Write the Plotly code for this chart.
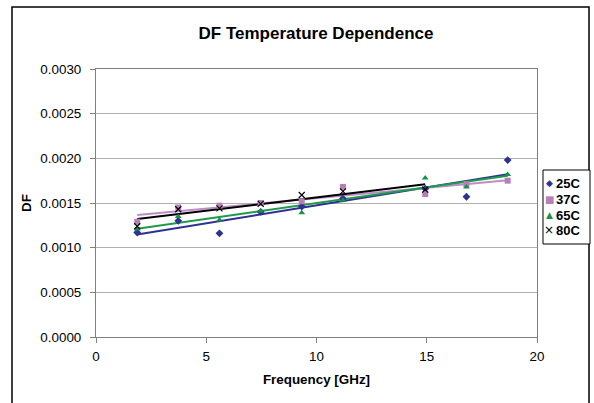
import numpy as np
import plotly.graph_objects as go

freq = [1.87, 3.73, 5.6, 7.47, 9.33, 11.2, 14.93, 16.8, 18.67]
freq_80 = [1.87, 3.73, 5.6, 7.47, 9.33, 11.2, 14.93]
df_25 = [0.00117, 0.00130, 0.00116, 0.00140, 0.00146, 0.00155, 0.00166, 0.00157, 0.00198]
df_37 = [0.00129, 0.00145, 0.00147, 0.00150, 0.00152, 0.00168, 0.00160, 0.00171, 0.00175]
df_65 = [0.00121, 0.00135, 0.00131, 0.00141, 0.00139, 0.00153, 0.00178, 0.00168, 0.00182]
df_80 = [0.00124, 0.00143, 0.00144, 0.00149, 0.00159, 0.00163, 0.00165]

names = ["25C", "37C", "65C", "80C"]
xs = [freq, freq, freq, freq_80]
ys = [df_25, df_37, df_65, df_80]
marker_colors = ["#2E3192", "#B77FB7", "#16914A", "#000000"]
line_colors = ["#2E3192", "#C08CC8", "#1E9A4B", "#000000"]
symbols = ["diamond", "square", "triangle-up", "x-thin"]
legend_glyphs = ["\u25C6", "\u25A0", "\u25B2", "\u00D7"]
glyph_sizes = [9, 10, 9, 12]

FONT = "Arial, Liberation Sans, sans-serif"
fig = go.Figure()

# trendlines (linear fits of each series)
for x, y, c in zip(xs, ys, line_colors):
    k, b = np.polyfit(x, y, 1)
    xe = [min(x), max(x)]
    fig.add_trace(go.Scatter(x=xe, y=[k * v + b for v in xe], mode="lines",
                             line=dict(color=c, width=2), showlegend=False,
                             hoverinfo="skip"))

for x, y, n, c, s in zip(xs, ys, names, marker_colors, symbols):
    mk = dict(color=c, symbol=s, size=6)
    if s == "x-thin":
        mk["line"] = dict(color=c, width=1.2)
    fig.add_trace(go.Scatter(x=x, y=y, mode="markers", name=n, marker=mk,
                             showlegend=False))

FW, FH = 594, 403
L, R, T, B = 96, 537, 69, 337
W, H = R - L, B - T
px = lambda v: (v - L) / W
py = lambda v: (B - v) / H

# outer chart border
fig.add_shape(type="rect", xref="paper", yref="paper",
              x0=px(12), x1=px(589), y0=py(430), y1=py(7),
              line=dict(color="#000000", width=1.5), layer="below")

# legend box + entries (text kept as real text)
fig.add_shape(type="rect", xref="paper", yref="paper",
              x0=px(543), x1=px(590), y0=py(244), y1=py(170),
              line=dict(color="#000000", width=1), fillcolor="white", layer="below")
row_y = [183, 199, 215, 230]
for n, c, g, gs, ry in zip(names, marker_colors, legend_glyphs, glyph_sizes, row_y):
    fig.add_annotation(xref="paper", yref="paper", x=px(549), y=py(ry),
                       text=g, showarrow=False, xanchor="center", yanchor="middle",
                       font=dict(color=c, size=gs, family="DejaVu Sans"))
    fig.add_annotation(xref="paper", yref="paper", x=px(554), y=py(ry),
                       text="<b>" + n + "</b>", showarrow=False, xanchor="left",
                       yanchor="middle", font=dict(color="#000000", size=13, family=FONT))

fig.update_layout(
    width=FW, height=FH,
    margin=dict(l=L, r=FW - R, t=T, b=FH - B, autoexpand=False),
    paper_bgcolor="white", plot_bgcolor="white",
    font=dict(family=FONT, size=13.4, color="#000000"),
    showlegend=False,
    title=dict(text="<b>DF Temperature Dependence</b>", xref="container", x=316 / FW,
               xanchor="center", yref="container", y=1 - 33 / FH, yanchor="middle",
               font=dict(size=17)),
    xaxis=dict(range=[0, 20], tickvals=[0, 5, 10, 15, 20], showgrid=False,
               showline=True, linecolor="#808080", linewidth=1, mirror=True,
               ticks="outside", ticklen=5, tickcolor="#808080", zeroline=False,
               automargin=False, ticklabelstandoff=2,
               title=dict(text="<b>Frequency [GHz]</b>", font=dict(size=13.4), standoff=11)),
    yaxis=dict(range=[0, 0.003], tickvals=[0, 0.0005, 0.001, 0.0015, 0.002, 0.0025, 0.003],
               tickformat=".4f", showgrid=True, gridcolor="#B0B0B0", gridwidth=1,
               showline=True, linecolor="#808080", linewidth=1, mirror=True,
               ticks="outside", ticklen=5, tickcolor="#808080", zeroline=False,
               automargin=False, ticklabelstandoff=6,
               title=dict(text="<b>DF</b>", font=dict(size=13.4), standoff=5)),
)

fig.write_html("out.html", config={"displayModeBar": False},
               post_script="document.body.style.margin='0px';"
                           "document.body.style.overflow='hidden';")
